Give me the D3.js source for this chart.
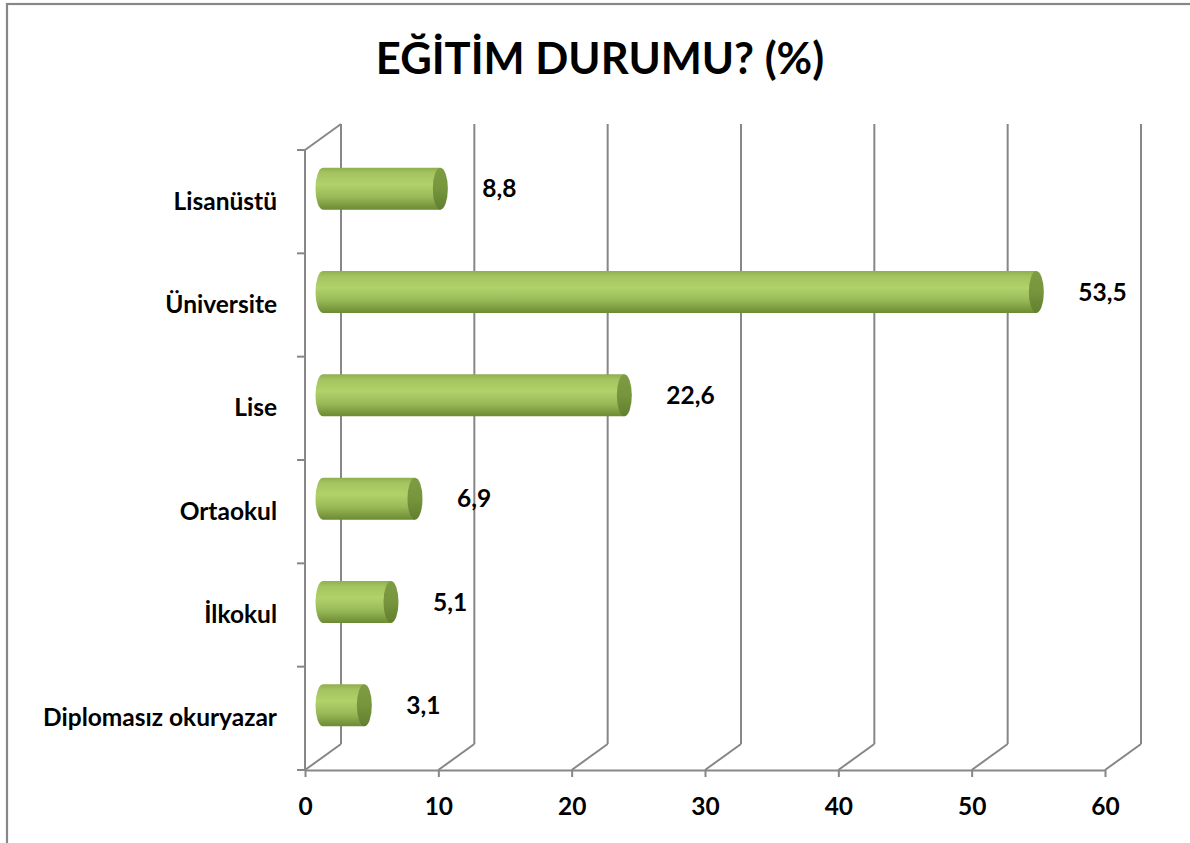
<!DOCTYPE html>
<html>
<head>
<meta charset="utf-8">
<script src="https://cdn.jsdelivr.net/npm/d3@7"></script>
<style>
  body { margin: 0; background: #fff; }
  svg { display: block; }
</style>
</head>
<body>
<div id="my_dataviz"></div>
<script>
// chart data
const categories = ["Lisanüstü", "Üniversite", "Lise", "Ortaokul", "İlkokul", "Diplomasız okuryazar"];
const values = [8.8, 53.5, 22.6, 6.9, 5.1, 3.1];
const valueLabels = ["8,8", "53,5", "22,6", "6,9", "5,1", "3,1"];
const xTicks = [0, 10, 20, 30, 40, 50, 60];
const title = "EĞİTİM DURUMU? (%)";

const W = 1190, H = 843;
const fontFam = "Lato, 'Open Sans', sans-serif";
const gridColor = "#878787";
const labelSize = "24.5px";

// 3d depth offset (front -> back)
const depth = {dx: 36, dy: -26};

let svg = d3.select("#my_dataviz")
  .append("svg")
    .attr("width", W)
    .attr("height", H);

// frame
svg.append("rect")
  .attr("x", 7).attr("y", 4)
  .attr("width", W + 10).attr("height", H + 10)
  .attr("fill", "#fff")
  .attr("stroke", gridColor)
  .attr("stroke-width", 2.2);

// scales (front plane)
let x = d3.scaleLinear()
  .domain([0, 60])
  .range([305, 1105]);

let y = d3.scaleBand()
  .domain(categories)
  .range([150, 770])
  .padding(0);

// gradients
const defs = svg.append("defs");
const bodyGrad = defs.append("linearGradient")
  .attr("id", "bodyGrad").attr("x1", 0).attr("y1", 0).attr("x2", 0).attr("y2", 1);
[["0%", "#8fae4f"], ["12%", "#a3c35f"], ["40%", "#b1d26a"], ["70%", "#98b957"], ["100%", "#6c8a34"]]
  .forEach(s => bodyGrad.append("stop").attr("offset", s[0]).attr("stop-color", s[1]));
const capGrad = defs.append("linearGradient")
  .attr("id", "capGrad").attr("x1", 0).attr("y1", 0).attr("x2", 0).attr("y2", 1);
[["0%", "#7d9c43"], ["50%", "#76953d"], ["100%", "#627f2e"]]
  .forEach(s => capGrad.append("stop").attr("offset", s[0]).attr("stop-color", s[1]));

const grid = svg.append("g")
  .attr("stroke", gridColor)
  .attr("stroke-width", 2)
  .attr("fill", "none");

const yTop = y.range()[0], yBot = y.range()[1];

// back wall gridlines
grid.selectAll(".back")
  .data(xTicks)
  .enter().append("line")
  .attr("x1", d => x(d) + depth.dx).attr("x2", d => x(d) + depth.dx)
  .attr("y1", yTop + depth.dy).attr("y2", yBot + depth.dy);

// floor diagonals
grid.selectAll(".floor")
  .data(xTicks)
  .enter().append("line")
  .attr("x1", d => x(d)).attr("x2", d => x(d) + depth.dx)
  .attr("y1", yBot).attr("y2", yBot + depth.dy);

// left wall
grid.append("line")
  .attr("x1", x(0)).attr("x2", x(0))
  .attr("y1", yTop).attr("y2", yBot);
grid.append("line")
  .attr("x1", x(0)).attr("x2", x(0) + depth.dx)
  .attr("y1", yTop).attr("y2", yTop + depth.dy);

// y boundary ticks
const bounds = categories.map(c => y(c)).concat([yBot]);
grid.selectAll(".ytick")
  .data(bounds)
  .enter().append("line")
  .attr("x1", x(0) - 8).attr("x2", x(0))
  .attr("y1", d => d).attr("y2", d => d);

// x axis
let xAxis = d3.axisBottom(x)
  .tickValues(xTicks)
  .tickSize(7)
  .tickSizeOuter(0)
  .tickPadding(21)
  .tickFormat(d3.format("d"));
const xg = svg.append("g")
  .attr("transform", "translate(0," + yBot + ")")
  .call(xAxis);
xg.select(".domain").attr("stroke", gridColor).attr("stroke-width", 2);
xg.selectAll(".tick line").attr("stroke", gridColor).attr("stroke-width", 2);
xg.selectAll(".tick text")
  .attr("fill", "#000")
  .style("font-family", fontFam)
  .style("font-weight", "bold")
  .style("font-size", labelSize);

// y axis labels
let yAxis = d3.axisLeft(y).tickSize(0).tickPadding(28);
const yg = svg.append("g")
  .attr("transform", "translate(" + x(0) + ",0)")
  .call(yAxis);
yg.select(".domain").remove();
yg.selectAll(".tick text")
  .attr("fill", "#000")
  .style("font-family", fontFam)
  .style("font-weight", "bold")
  .style("font-size", labelSize);

// bars as cylinders at mid depth
const mdx = depth.dx / 2, mdy = depth.dy / 2;
const barH = 42, ry = barH / 2, rx = 7.5;
const bars = svg.selectAll(".bar")
  .data(values)
  .enter().append("g");

bars.append("path")
  .attr("fill", "url(#bodyGrad)")
  .attr("d", (d, i) => {
    const cy = y(categories[i]) + y.bandwidth() / 2 + mdy;
    const x0 = x(0) + mdx, x1 = x(d) + mdx;
    return `M${x0},${cy - ry} L${x1},${cy - ry} L${x1},${cy + ry} L${x0},${cy + ry}` +
      ` A${rx},${ry} 0 0 1 ${x0},${cy - ry} Z`;
  });

bars.append("ellipse")
  .attr("fill", "url(#capGrad)")
  .attr("cx", d => x(d) + mdx)
  .attr("cy", (d, i) => y(categories[i]) + y.bandwidth() / 2 + mdy)
  .attr("rx", rx)
  .attr("ry", ry);

// value labels
svg.selectAll(".vlabel")
  .data(values)
  .enter().append("text")
  .attr("x", d => x(d) + mdx + 42)
  .attr("y", (d, i) => y(categories[i]) + y.bandwidth() / 2 + mdy)
  .attr("dy", "0.35em")
  .style("font-family", fontFam)
  .style("font-weight", "bold")
  .style("font-size", labelSize)
  .text((d, i) => valueLabels[i]);

// title
svg.append("text")
  .attr("x", 600)
  .attr("y", 74)
  .attr("text-anchor", "middle")
  .style("font-family", fontFam)
  .style("font-weight", "bold")
  .style("font-size", "43.5px")
  .text(title);
</script>
</body>
</html>
